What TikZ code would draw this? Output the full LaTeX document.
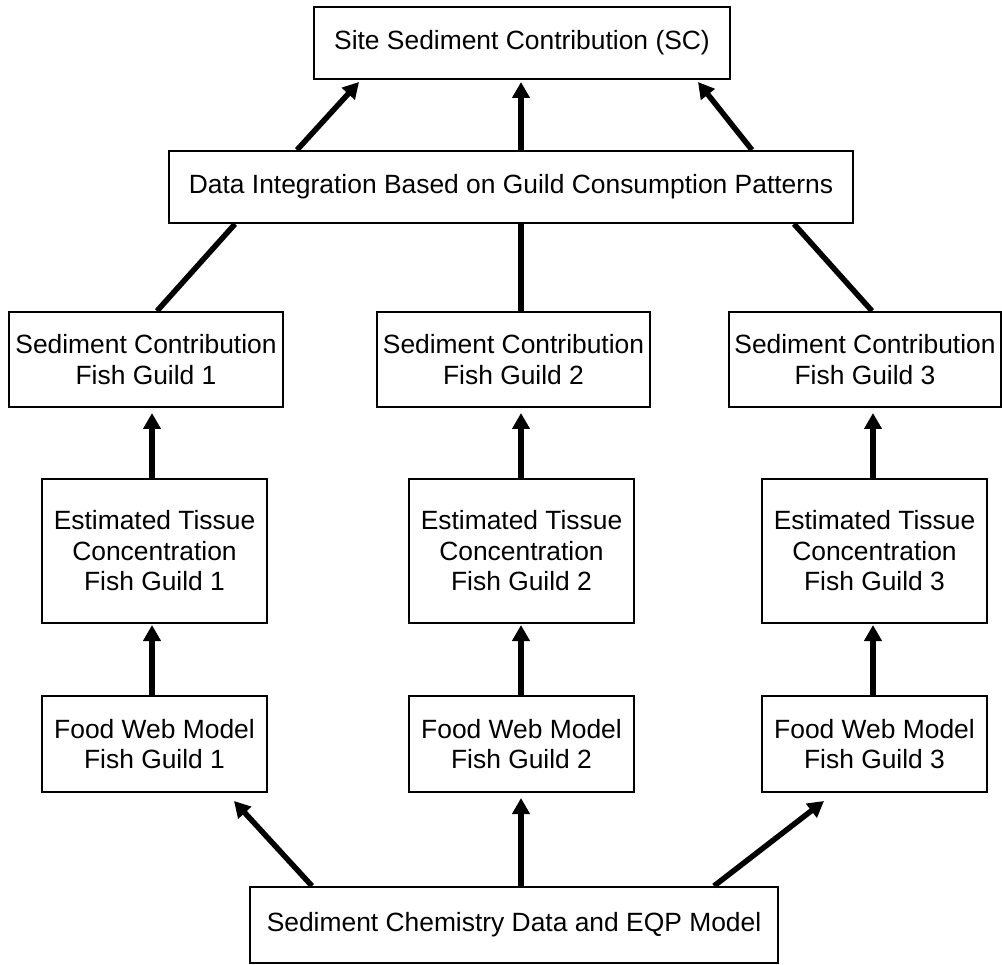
\documentclass[tikz,border=0pt]{standalone}
\usepackage{fontspec}
\setmainfont{Liberation Sans}
\usetikzlibrary{arrows.meta,calc}
\tikzset{
  box/.style={draw=black, line width=2pt, fill=white, inner sep=0pt, align=center,
    font=\fontsize{26.4}{30.5}\selectfont},
  conn/.style={line width=5.5pt},
  arr/.style={line width=5.5pt, -{Triangle[length=16pt,width=17pt]}},
}
\begin{document}
\begin{tikzpicture}[x=1pt,y=-1pt]
\useasboundingbox (0,0) rectangle (1002,965);
% nodes
\node[box, minimum width=416pt, minimum height=72pt] (top) at (522,43) {Site Sediment Contribution (SC)};
\node[box, minimum width=684pt, minimum height=72pt] (data) at (511,187) {Data Integration Based on Guild Consumption Patterns};
\node[box, minimum width=274pt, minimum height=95pt] (sc1) at (146,359.5) {Sediment Contribution\\Fish Guild 1};
\node[box, minimum width=273pt, minimum height=95pt] (sc2) at (513.5,359.5) {Sediment Contribution\\Fish Guild 2};
\node[box, minimum width=272pt, minimum height=95pt] (sc3) at (865,359.5) {Sediment Contribution\\Fish Guild 3};
\node[box, minimum width=225pt, minimum height=144pt] (et1) at (154.5,551) {Estimated Tissue\\Concentration\\Fish Guild 1};
\node[box, minimum width=225pt, minimum height=144pt] (et2) at (521.5,551) {Estimated Tissue\\Concentration\\Fish Guild 2};
\node[box, minimum width=225pt, minimum height=144pt] (et3) at (874.5,551) {Estimated Tissue\\Concentration\\Fish Guild 3};
\node[box, minimum width=225pt, minimum height=96pt] (fw1) at (154.5,744) {Food Web Model\\Fish Guild 1};
\node[box, minimum width=225pt, minimum height=96pt] (fw2) at (521.5,744) {Food Web Model\\Fish Guild 2};
\node[box, minimum width=225pt, minimum height=96pt] (fw3) at (874.5,744) {Food Web Model\\Fish Guild 3};
\node[box, minimum width=528pt, minimum height=76pt] (sed) at (514,925) {Sediment Chemistry Data and EQP Model};
% data -> top
\draw[arr] ($(data.north west)+(129,0)$) -- ($(top.south west)+(46,2)$);
\draw[arr] ($(data.north west)+(353,0)$) -- ($(top.south west)+(208,2)$);
\draw[arr] ($(data.north west)+(584,0)$) -- ($(top.south west)+(385,2)$);
% sc -> data (lines)
\draw[conn] ($(sc1.north west)+(149,0)$) -- ($(data.south west)+(67,0)$);
\draw[conn] ($(sc2.north west)+(145,0)$) -- ($(data.south west)+(353,0)$);
\draw[conn] ($(sc3.north west)+(144,0)$) -- ($(data.south west)+(626,0)$);
% et -> sc
\draw[arr] ($(et1.north west)+(111,0)$) -- ($(sc1.south west)+(144,5)$);
\draw[arr] ($(et2.north west)+(113,0)$) -- ($(sc2.south west)+(145,5)$);
\draw[arr] ($(et3.north west)+(112,0)$) -- ($(sc3.south west)+(145,5)$);
% fw -> et
\draw[arr] ($(fw1.north west)+(111,0)$) -- ($(et1.south west)+(111,1)$);
\draw[arr] ($(fw2.north west)+(113,0)$) -- ($(et2.south west)+(113,1)$);
\draw[arr] ($(fw3.north west)+(112,0)$) -- ($(et3.south west)+(112,1)$);
% sed -> fw
\draw[arr] ($(sed.north west)+(63,0)$) -- ($(fw1.south west)+(193,8)$);
\draw[arr] ($(sed.north west)+(272,0)$) -- ($(fw2.south west)+(113,5)$);
\draw[arr] ($(sed.north west)+(465,0)$) -- ($(fw3.south west)+(63,8)$);
\end{tikzpicture}
\end{document}
